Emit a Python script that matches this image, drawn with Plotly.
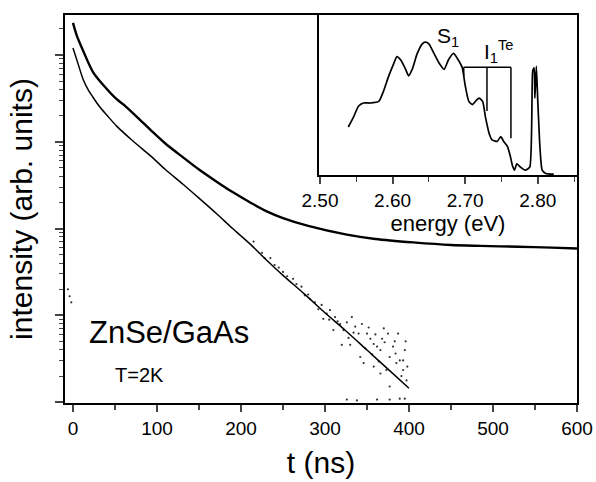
import plotly.graph_objects as go

# ---------------- data ----------------
# upper decay curve: time (ns) and log10(intensity)
t_upper = [0, 5, 12, 24, 40, 52, 60, 80, 92, 110, 131, 150, 171, 190, 211, 230,
           250, 280, 326, 360, 405, 450, 485, 530, 570, 600]
log_upper = [4.37, 4.21, 4.05, 3.80, 3.61, 3.49, 3.43, 3.25, 3.14, 2.98, 2.82, 2.68,
             2.54, 2.42, 2.30, 2.20, 2.12, 2.03, 1.93, 1.88, 1.84, 1.81, 1.80, 1.79,
             1.78, 1.77]

# lower decay curve (fit line)
t_lower = [0, 6, 12, 18, 24, 32, 40, 52, 70, 92, 110, 131, 150, 171, 190, 211,
           230, 250, 275, 300, 325, 350, 375, 400]
log_lower = [4.08, 3.90, 3.72, 3.60, 3.51, 3.40, 3.31, 3.18, 3.02, 2.84, 2.68, 2.51,
             2.35, 2.17, 2.00, 1.82, 1.64, 1.46, 1.25, 1.03, 0.82, 0.60, 0.38, 0.16]

# scattered measured points around the lower curve
t_noise = [215, 225, 235, 245, 255, 262, 272, 276, 282, 288, 296, 298, 302, 306, 312,
           318, 322, 326, 332, 336, 340, 344, 350, 354, 358, 362, 366, 368, 371, 375,
           377, 381, 385, 387, 389, 393, 395, 397, 373, 377, 366, 358, 346, 342, 330,
           320, 310, 393, 326, 338, 362, 377, 389, 395, -6, -4, -2,
           228, 240, 250, 266, 280, 292, 305, 315, 328, 334, 348, 356, 364, 370, 383,
           391, 398, 352, 360, 384, 396]
log_noise = [1.85, 1.72, 1.66, 1.55, 1.45, 1.42, 1.33, 1.23, 1.19, 1.15, 1.12, 0.96,
             1.02, 1.06, 0.98, 0.90, 0.83, 0.92, 0.98, 0.87, 0.79, 0.90, 0.79, 0.73,
             0.67, 0.64, 0.60, 0.73, 0.69, 0.79, 0.52, 0.64, 0.45, 0.79, 0.48, 0.37,
             0.60, 0.25, 0.37, 0.18, 0.33, 0.41, 0.45, 0.52, 0.66, 0.66, 0.83, 0.48,
             0.03, 0.02, 0.03, 0.03, 0.04, 0.04, 1.30, 1.22, 1.15,
             1.66, 1.58, 1.50, 1.36, 1.24, 1.07, 0.95, 0.93, 0.74, 0.80, 0.62, 0.55,
             0.47, 0.85, 0.70, 0.30, 0.41, 0.86, 0.78, 0.56, 0.70]

# inset spectrum: energy (eV) and relative intensity
energy = [2.539, 2.546, 2.553, 2.560, 2.569, 2.581, 2.588, 2.594, 2.601, 2.606, 2.611,
          2.618, 2.622, 2.627, 2.634, 2.641, 2.645, 2.650, 2.657, 2.664, 2.671, 2.677,
          2.684, 2.689, 2.696, 2.700, 2.705, 2.710, 2.714, 2.719, 2.724, 2.728, 2.733,
          2.737, 2.744, 2.749, 2.753, 2.758, 2.762, 2.765, 2.768, 2.771, 2.776, 2.783,
          2.789, 2.793, 2.795, 2.796, 2.798, 2.800, 2.803, 2.806, 2.811, 2.822]
spec = [0.30, 0.36, 0.43, 0.45, 0.45, 0.46, 0.53, 0.61, 0.69, 0.74, 0.72, 0.66, 0.62,
        0.66, 0.76, 0.82, 0.83, 0.82, 0.76, 0.70, 0.66, 0.72, 0.76, 0.73, 0.67, 0.56,
        0.46, 0.44, 0.46, 0.48, 0.46, 0.36, 0.26, 0.22, 0.21, 0.24, 0.21, 0.18, 0.12,
        0.06, 0.03, 0.07, 0.05, 0.03, 0.05, 0.65, 0.67, 0.48, 0.68, 0.46, 0.17, 0.03,
        0.01, 0.005]

# I1^Te bracket in the inset
bracket_e = [2.698, 2.730, 2.763]
bracket_bottom = [0.62, 0.40, 0.23]
bracket_top = 0.673

x_ticks = [0, 100, 200, 300, 400, 500, 600]
inset_ticks = [2.50, 2.60, 2.70, 2.80]

FONT = "Liberation Sans, Arial, sans-serif"

fig = go.Figure()
fig.add_trace(go.Scatter(x=t_noise, y=[10 ** v for v in log_noise], mode="markers",
                         marker=dict(size=2.2, color="#333"), hoverinfo="skip"))
fig.add_trace(go.Scatter(x=t_upper, y=[10 ** v for v in log_upper], mode="lines",
                         line=dict(color="black", width=2.4, shape="spline", smoothing=0.8)))
fig.add_trace(go.Scatter(x=t_lower, y=[10 ** v for v in log_lower], mode="lines",
                         line=dict(color="black", width=1.5, shape="spline", smoothing=0.8)))
fig.add_trace(go.Scatter(x=energy, y=spec, mode="lines", xaxis="x2", yaxis="y2",
                         line=dict(color="black", width=1.7, shape="spline", smoothing=0.5)))

# bracket
fig.add_trace(go.Scatter(x=[bracket_e[0], bracket_e[2]], y=[bracket_top, bracket_top],
                         mode="lines", xaxis="x2", yaxis="y2",
                         line=dict(color="black", width=1.5)))
for e, b in zip(bracket_e, bracket_bottom):
    fig.add_trace(go.Scatter(x=[e, e], y=[bracket_top, b], mode="lines",
                             xaxis="x2", yaxis="y2",
                             line=dict(color="black", width=1.5)))

major_y = [1, 10, 100, 1000, 10000]
minor_y = [m * 10 ** k for k in range(0, 5) for m in range(2, 10) if m * 10 ** k < 29000]

fig.update_layout(
    width=596, height=482,
    margin=dict(l=65, r=19, t=15, b=79),
    paper_bgcolor="white", plot_bgcolor="white",
    showlegend=False,
    font=dict(family=FONT, color="black"),
    xaxis=dict(range=[-9.5, 600], tickvals=x_ticks, ticks="outside", ticklen=7,
               tickwidth=1.5, showline=True, linewidth=2, linecolor="black",
               mirror=True, showgrid=False, zeroline=False, automargin=False,
               tickfont=dict(size=19),
               minor=dict(dtick=50, tick0=0, ticks="outside", ticklen=5, tickwidth=1.5),
               title=dict(text="t (ns)", font=dict(size=30), standoff=14)),
    yaxis=dict(type="log", range=[-0.01, 4.46], tickvals=major_y, ticks="outside",
               ticklen=8, tickwidth=1.5, showticklabels=False, showline=True,
               linewidth=2, linecolor="black", mirror=True, showgrid=False,
               zeroline=False, automargin=False,
               minor=dict(tickvals=minor_y, ticks="outside", ticklen=4, tickwidth=1.2),
               title=dict(text="intensity (arb. units)", font=dict(size=30), standoff=14)),
    xaxis2=dict(domain=[0.496, 1.0], anchor="y2", range=[2.4986, 2.854],
                tickvals=inset_ticks, tickformat=".2f", ticks="outside", ticklen=7,
                tickwidth=1.5, showline=True, linewidth=1.8, linecolor="black",
                mirror=True, showgrid=False, zeroline=False, tickfont=dict(size=19),
                automargin=False,
                minor=dict(dtick=0.05, tick0=2.5, ticks="outside", ticklen=5, tickwidth=1.2),
                title=dict(text="energy (eV)", font=dict(size=22), standoff=2)),
    yaxis2=dict(domain=[0.5876, 1.0], anchor="x2", range=[0, 1], showticklabels=False,
                ticks="", showline=True, linewidth=1.8, linecolor="black", mirror=True,
                showgrid=False, zeroline=False, automargin=False),
)

fig.add_annotation(x=16.7, y=0.80, xref="x", yref="y", text="ZnSe/GaAs", showarrow=False,
                   xanchor="left", yanchor="middle", font=dict(size=31))
fig.add_annotation(x=47.6, y=0.31, xref="x", yref="y", text="T=2K", showarrow=False,
                   xanchor="left", yanchor="middle", font=dict(size=20))
fig.add_annotation(x=2.677, y=0.86, xref="x2", yref="y2", text="S<sub>1</sub>",
                   showarrow=False, font=dict(size=21))
fig.add_annotation(x=2.746, y=0.77, xref="x2", yref="y2", text="I<sub>1</sub><sup>Te</sup>",
                   showarrow=False, font=dict(size=21))

fig.write_html("out.html", config={"displayModeBar": False},
               post_script="document.body.style.margin='0';document.body.style.padding='0';")
